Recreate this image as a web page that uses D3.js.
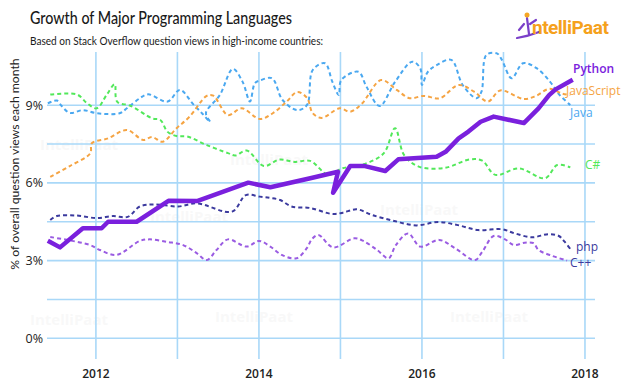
<!DOCTYPE html>
<html>
<head>
<meta charset="utf-8">
<script src="https://cdn.jsdelivr.net/npm/d3@7"></script>
<style>
	body { margin: 0; background: #fff; }
	svg { display: block; font-family: "Open Sans", sans-serif; }
</style>
</head>
<body>
<svg id="chart" width="624" height="389"></svg>
<script>
// values: [year, % of views]
const python = [[2011.41,3.77],[2011.56,3.51],[2011.84,4.25],[2012.07,4.25],[2012.15,4.50],[2012.50,4.50],[2012.89,5.31],[2013.24,5.30],[2013.87,6.01],[2014.14,5.83],[2014.63,6.18],[2014.97,6.43],[2014.91,5.62],[2015.12,6.65],[2015.30,6.65],[2015.55,6.46],[2015.71,6.91],[2016.18,7.01],[2016.29,7.20],[2016.45,7.72],[2016.57,7.98],[2016.72,8.36],[2016.88,8.56],[2017.25,8.31],[2017.43,8.88],[2017.56,9.39],[2017.64,9.61],[2017.85,9.98]]
const java = [[2011.41,9.07],[2011.52,9.18],[2011.58,8.97],[2011.68,8.70],[2011.84,8.81],[2012.01,8.69],[2012.29,8.69],[2012.38,8.88],[2012.54,9.27],[2012.64,9.42],[2012.88,9.14],[2013.03,9.59],[2013.19,9.05],[2013.31,8.66],[2013.40,8.36],[2013.35,8.70],[2013.52,9.39],[2013.68,10.40],[2013.80,9.90],[2013.89,9.14],[2013.95,9.85],[2014.01,9.95],[2014.16,10.04],[2014.29,9.20],[2014.47,8.81],[2014.59,9.01],[2014.66,10.36],[2014.81,10.62],[2014.90,9.91],[2014.98,9.39],[2015.01,9.97],[2015.22,10.29],[2015.32,9.71],[2015.48,8.97],[2015.67,9.90],[2015.88,10.68],[2015.98,10.42],[2016.00,9.78],[2016.07,10.28],[2016.18,10.55],[2016.36,10.75],[2016.50,9.78],[2016.67,9.27],[2016.73,9.52],[2016.79,10.94],[2016.92,11.00],[2016.98,10.75],[2017.10,10.04],[2017.24,10.62],[2017.41,10.42],[2017.57,9.91],[2017.69,9.39],[2017.82,9.01]]
const javascript = [[2011.44,6.23],[2011.68,6.65],[2011.93,7.14],[2011.95,7.53],[2012.15,7.72],[2012.38,8.04],[2012.58,7.66],[2012.69,7.77],[2012.82,7.59],[2012.99,8.11],[2013.15,8.56],[2013.36,9.36],[2013.44,9.37],[2013.62,8.62],[2013.79,8.88],[2014.01,8.47],[2014.17,8.69],[2014.34,9.14],[2014.47,9.51],[2014.59,9.28],[2014.66,8.69],[2014.77,8.51],[2014.99,8.88],[2015.12,8.75],[2015.26,9.05],[2015.50,9.97],[2015.69,9.59],[2015.85,9.27],[2016.02,9.36],[2016.22,9.27],[2016.45,9.78],[2016.64,9.52],[2016.81,9.14],[2016.96,9.57],[2017.25,9.24],[2017.40,9.36],[2017.56,9.63],[2017.72,9.45],[2017.82,9.39]]
const csharp = [[2011.44,9.41],[2011.77,9.41],[2011.89,9.08],[2012.01,8.88],[2012.13,9.39],[2012.23,9.81],[2012.26,9.14],[2012.43,8.97],[2012.69,8.49],[2012.79,8.43],[2012.88,7.97],[2012.99,7.81],[2013.12,7.79],[2013.36,7.46],[2013.62,7.15],[2013.71,7.06],[2013.85,7.25],[2014.06,6.65],[2014.25,6.90],[2014.44,6.81],[2014.63,6.85],[2014.85,6.31],[2015.02,6.56],[2015.26,6.69],[2015.53,7.14],[2015.67,8.11],[2015.78,7.08],[2015.96,6.63],[2016.28,6.58],[2016.59,6.91],[2016.74,6.86],[2016.90,6.31],[2017.19,6.56],[2017.51,6.18],[2017.66,6.69],[2017.82,6.60]]
const php = [[2011.44,4.57],[2011.52,4.72],[2011.77,4.74],[2012.01,4.64],[2012.21,4.72],[2012.39,4.69],[2012.54,5.09],[2012.72,5.17],[2013.01,5.09],[2013.24,5.21],[2013.67,4.89],[2013.84,5.53],[2014.01,5.47],[2014.14,5.42],[2014.26,5.34],[2014.40,5.09],[2014.63,5.03],[2014.90,4.80],[2015.03,4.85],[2015.20,4.98],[2015.39,4.76],[2015.66,4.53],[2015.93,4.36],[2016.20,4.49],[2016.44,4.37],[2016.69,4.18],[2016.98,4.21],[2017.14,4.05],[2017.35,3.90],[2017.55,4.02],[2017.68,3.95],[2017.75,3.73],[2017.82,3.45]]
const cpp = [[2011.44,3.91],[2011.68,3.78],[2011.93,3.60],[2012.05,3.41],[2012.25,3.22],[2012.54,3.76],[2012.66,3.82],[2012.88,3.72],[2013.07,3.60],[2013.24,3.28],[2013.36,3.02],[2013.48,3.41],[2013.62,3.82],[2013.85,3.54],[2014.00,3.76],[2014.14,3.54],[2014.28,3.22],[2014.46,3.09],[2014.59,3.49],[2014.65,3.83],[2014.73,3.99],[2014.91,3.51],[2015.17,3.86],[2015.28,3.76],[2015.45,3.41],[2015.59,3.09],[2015.68,3.60],[2015.83,4.05],[2015.98,3.54],[2016.21,3.80],[2016.41,3.47],[2016.65,3.02],[2016.74,3.34],[2016.88,3.95],[2017.02,3.82],[2017.13,3.60],[2017.26,3.69],[2017.37,3.67],[2017.43,3.41],[2017.60,3.18],[2017.78,3.00]]

const yearTicks = [2012, 2014, 2016, 2018]
const yearGrid = [2012, 2013, 2014, 2015, 2016, 2017, 2018]
const pctTicks = [0, 3, 6, 9]
const pctGrid = [0, 1.5, 3, 4.5, 6, 7.5, 9]

const series = [
	{ name: "Java", data: java, color: "#4aa8f0", labelY: 113, labelX: 570, dashed: true },
	{ name: "JavaScript", data: javascript, color: "#f5a443", labelY: 91, labelX: 566, dashed: true },
	{ name: "C#", data: csharp, color: "#52e85a", labelY: 165, labelX: 585, dashed: true },
	{ name: "php", data: php, color: "#3b3a9e", labelY: 247, labelX: 576, dashed: true },
	{ name: "C++", data: cpp, color: "#9a5ce2", labelColor: "#3b3a9e", labelY: 263, labelX: 570, dashed: true },
	{ name: "Python", data: python, color: "#7a20dd", labelY: 69, labelX: 573, dashed: false },
]

const svg = d3.select("#chart")
const plotL = 47, plotR = 595, plotT = 52, plotB = 359

const x = d3.scaleLinear().domain([2011.4, 2018.123]).range([plotL, plotR])
const y = d3.scaleLinear().domain([0, 9]).range([338.3, 105.2])

// faint watermarks
const marks = [[40, 150], [230, 165], [150, 222], [380, 215], [30, 325], [215, 322], [450, 322]]
svg.append("g").selectAll("text").data(marks).join("text")
	.attr("x", d => d[0]).attr("y", d => d[1])
	.attr("font-size", 15).attr("font-weight", 700)
	.attr("fill", "#000").attr("opacity", 0.022)
	.text("IntelliPaat")

// grid
svg.append("g").selectAll("line").data(pctGrid).join("line")
	.attr("x1", plotL).attr("x2", plotR)
	.attr("y1", d => y(d)).attr("y2", d => y(d))
	.attr("stroke", "#a9d8f8").attr("stroke-width", 1.6)

svg.append("g").selectAll("line").data(yearGrid).join("line")
	.attr("x1", d => x(d)).attr("x2", d => x(d))
	.attr("y1", plotT).attr("y2", plotB)
	.attr("stroke", "#a9d8f8").attr("stroke-width", 1.6)

// axes labels
svg.append("g").selectAll("text").data(pctTicks).join("text")
	.attr("x", 43).attr("y", d => y(d)).attr("dy", "0.35em")
	.attr("text-anchor", "end").attr("font-size", 12.5).attr("fill", "#222")
	.text(d => d + "%")

svg.append("g").selectAll("text").data(yearTicks).join("text")
	.attr("x", d => x(d)).attr("y", 378)
	.attr("text-anchor", "middle").attr("font-size", 12).attr("font-weight", 600).attr("fill", "#222")
	.text(d => d)

svg.append("text")
	.attr("transform", "translate(19,164) rotate(-90)")
	.attr("text-anchor", "middle").attr("font-size", 12.2).attr("fill", "#222")
	.attr("font-family", "Lato, sans-serif")
	.text("% of overall question views each month")

// lines
const line = d3.line()
	.x(d => x(d[0])).y(d => y(d[1]))

svg.append("g").selectAll("path").data(series).join("path")
	.attr("fill", "none")
	.attr("stroke", d => d.color)
	.attr("stroke-width", d => d.dashed ? 2 : 4.5)
	.attr("stroke-dasharray", d => d.dashed ? "4,3" : null)
	.attr("stroke-linejoin", "round")
	.attr("d", d => line.curve(d.dashed ? d3.curveCatmullRom.alpha(0.5) : d3.curveLinear)(d.data))

svg.append("g").selectAll("text").data(series).join("text")
	.attr("x", d => d.labelX).attr("y", d => d.labelY).attr("dy", "0.35em")
	.attr("font-size", 12).attr("font-weight", d => d.name === "Python" ? 600 : 400)
	.attr("fill", d => d.labelColor || d.color)
	.text(d => d.name)

// title
svg.append("text").attr("x", 30).attr("y", 24)
	.attr("font-size", 16.5).attr("fill", "#1a1a1a").attr("font-weight", 500)
	.attr("font-family", "Lato, sans-serif")
	.attr("textLength", 262).attr("lengthAdjust", "spacingAndGlyphs")
	.text("Growth of Major Programming Languages")
svg.append("text").attr("x", 30).attr("y", 45)
	.attr("font-size", 11.5).attr("fill", "#1a1a1a")
	.attr("font-family", "Lato, sans-serif")
	.attr("textLength", 293).attr("lengthAdjust", "spacingAndGlyphs")
	.text("Based on Stack Overflow question views  in high-income countries:")

// logo
const logo = svg.append("g").attr("transform", "translate(523,34)")
logo.append("path").attr("d", "M4,-16 L6,0 M-6,4 Q6,2 16,-2 M1,-10 L-4,-4 M7,-10 L13,-14")
	.attr("stroke", "#7a3fc9").attr("stroke-width", 2.2).attr("fill", "none").attr("stroke-linecap", "round")
logo.append("circle").attr("cx", 4).attr("cy", -19).attr("r", 2.5).attr("fill", "#f5a623")
logo.append("text").attr("x", 9).attr("y", 0)
	.attr("font-size", 19).attr("font-weight", 700).attr("fill", "#f5a11c")
	.attr("font-family", "Roboto, sans-serif").attr("letter-spacing", -0.5)
	.text("ntelliPaat")
</script>
</body>
</html>
